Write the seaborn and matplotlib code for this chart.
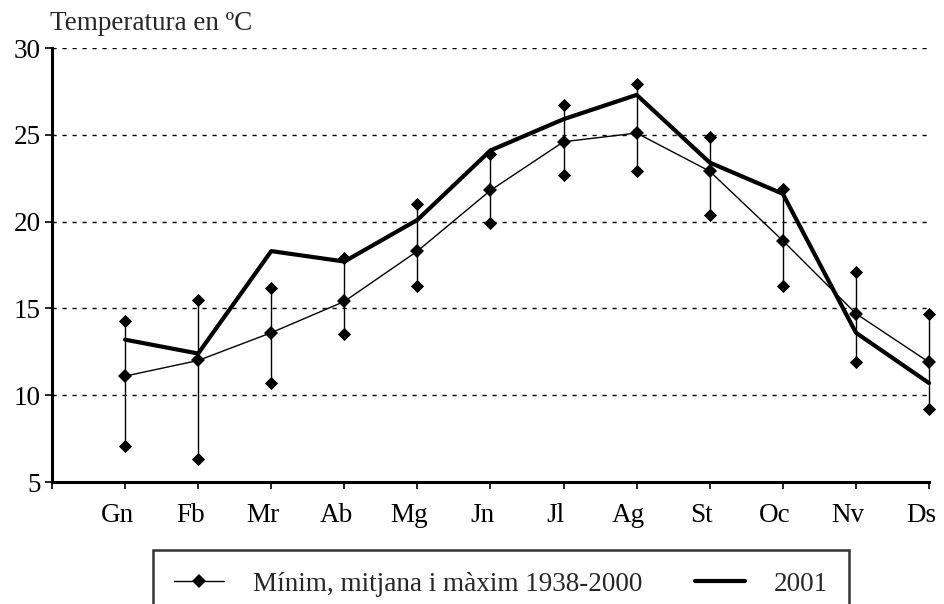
import matplotlib
matplotlib.use('Agg')
import numpy as np
import pandas as pd
import seaborn as sns
from matplotlib import pyplot as plt
from matplotlib.transforms import ScaledTranslation

# monthly temperatures
months = ['Gn', 'Fb', 'Mr', 'Ab', 'Mg', 'Jn', 'Jl', 'Ag', 'St', 'Oc', 'Nv', 'Ds']
t_min = [7.1, 6.3, 10.7, 13.5, 16.3, 19.9, 22.7, 22.9, 20.4, 16.3, 11.9, 9.2]
t_mean = [11.1, 12.0, 13.6, 15.4, 18.3, 21.8, 24.6, 25.1, 22.9, 18.9, 14.7, 11.9]
t_max = [14.3, 15.5, 16.2, 17.9, 21.0, 23.9, 26.7, 27.9, 24.9, 21.9, 17.1, 14.7]
t_2001 = [13.2, 12.4, 18.3, 17.7, 20.1, 24.1, 25.9, 27.3, 23.4, 21.6, 13.6, 10.7]

df = pd.DataFrame({
    'pos': np.arange(len(months)),
    'Month': months,
    'min': t_min,
    'mean': t_mean,
    'max': t_max,
    'y2001': t_2001,
})

FS = 19.5

sns.set_style('white')
plt.rcParams['font.family'] = ['Liberation Serif', 'DejaVu Serif']
plt.rcParams['font.size'] = FS

fig = plt.figure(figsize=(9.45, 6.04), dpi=100)
ax = fig.add_axes([52 / 945, 122 / 604, (929 - 52) / 945, (482 - 48) / 604])

# range bars min..max
ax.vlines(df['pos'], df['min'], df['max'], color='black', lw=1, zorder=2,
          clip_on=False)
sns.scatterplot(data=df, x='pos', y='min', marker='D', color='black',
                s=45, edgecolor='black', linewidth=0, legend=False, ax=ax,
                zorder=3, clip_on=False)
sns.scatterplot(data=df, x='pos', y='max', marker='D', color='black',
                s=45, edgecolor='black', linewidth=0, legend=False, ax=ax,
                zorder=3, clip_on=False)
sns.lineplot(data=df, x='pos', y='mean', marker='D', markersize=7,
             markeredgewidth=0, color='black', lw=1, clip_on=False,
             label='Mínim, mitjana i màxim 1938-2000', ax=ax, zorder=3)
sns.lineplot(data=df, x='pos', y='y2001', color='black', lw=3, clip_on=False,
             label='2001', ax=ax, zorder=4)

ax.set_xlim(-1, 11)
ax.set_ylim(5, 30)
ax.set_yticks([5, 10, 15, 20, 25, 30])
ax.set_xticks(np.arange(-1, 12))
ax.set_xticklabels([''] + months)
ax.set_xlabel('')
ax.set_ylabel('')

ax.yaxis.grid(True, color='black', lw=1, linestyle=(0, (3, 4.2)))
ax.xaxis.grid(False)
for s in ['top', 'right']:
    ax.spines[s].set_visible(False)
for s in ['left', 'bottom']:
    ax.spines[s].set_linewidth(2.2)
    ax.spines[s].set_color('black')
ax.tick_params(axis='both', which='major', direction='out', length=5,
               width=1.2, color='black', labelsize=FS, labelcolor='black',
               bottom=True, left=True)
ax.tick_params(axis='x', pad=10)
ax.tick_params(axis='y', pad=3)

fig.text(50 / 945, 1 - 24 / 604, 'Temperatura en ºC', ha='left', va='center',
         fontsize=FS)

# legend box runs off the bottom edge, as in the original
leg = ax.legend(loc='upper center', bbox_to_anchor=(501 / 945, 1 - 550 / 604),
                bbox_transform=fig.transFigure, ncol=2, frameon=True,
                fancybox=False, fontsize=FS, borderpad=0.8, borderaxespad=0,
                handlelength=1.85, handletextpad=1.05, columnspacing=1.95)
leg.get_frame().set_edgecolor('black')
leg.get_frame().set_linewidth(1.8)

# month labels sit a little left of their ticks in the original
fig.canvas.draw()
for t in ax.xaxis.get_major_ticks():
    t.label1.set_transform(t.label1.get_transform()
                           + ScaledTranslation(-8 / 100, 0, fig.dpi_scale_trans))

fig.savefig('out.png', dpi=100)
